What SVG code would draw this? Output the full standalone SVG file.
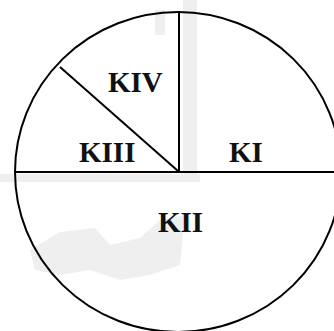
<svg xmlns="http://www.w3.org/2000/svg" width="334" height="331" viewBox="0 0 334 331">
<style>
.ln{stroke:#000;stroke-width:2;fill:none}
.lbl{font-family:"Liberation Serif","Times New Roman",serif;font-weight:bold;font-size:29px;fill:#111}
.wm{fill:#efefef}
</style>
<rect width="334" height="331" fill="#fff"/>
<g id="watermark">
<rect class="wm" x="183" y="0" width="14" height="180"/>
<rect class="wm" x="155" y="10" width="10" height="25"/>
<rect class="wm" x="0" y="174" width="200" height="8"/>
<path class="wm" d="M30 250 L60 232 L95 228 L110 245 L140 238 L160 220 L185 215 L180 265 L150 275 L120 280 L90 270 L60 275 L35 270 Z"/>
</g>
<g id="connectors">
<ellipse class="ln" cx="178" cy="172" rx="163" ry="160"/>
<line class="ln" x1="15" y1="172" x2="334" y2="172"/>
<line class="ln" x1="179" y1="11" x2="179" y2="172"/>
<line class="ln" x1="60" y1="67" x2="178" y2="171"/>
</g>
<g id="KIV"><text class="lbl" x="108" y="92">KIV</text></g>
<g id="KIII"><text class="lbl" x="79" y="162">KIII</text></g>
<g id="KI"><text class="lbl" x="229" y="162">KI</text></g>
<g id="KII"><text class="lbl" x="158" y="232">KII</text></g>
</svg>
